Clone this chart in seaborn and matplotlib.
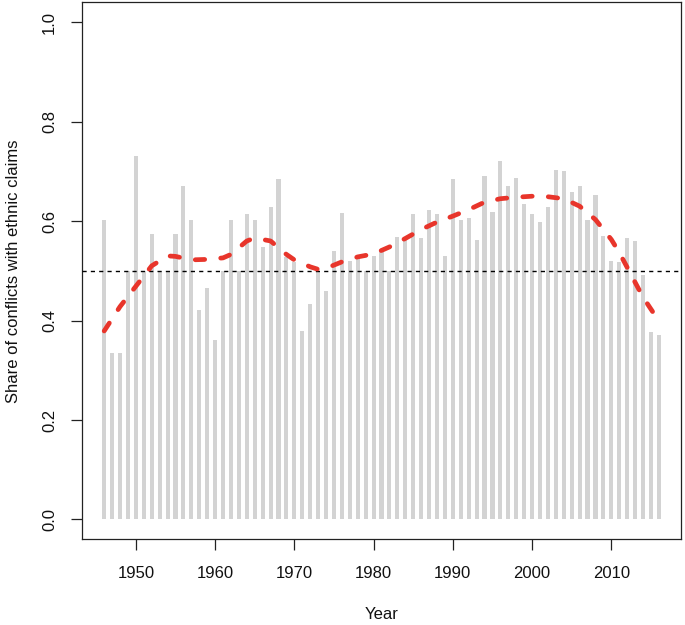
import numpy as np
import pandas as pd
import seaborn as sns
import matplotlib
matplotlib.use("Agg")
import matplotlib.pyplot as plt

# yearly share of conflicts with ethnic claims
years = list(range(1946, 2017))
shares = [
    0.603, 0.335, 0.335, 0.500, 0.730, 0.500, 0.574, 0.500, 0.500, 0.574,  # 1946-1955
    0.670, 0.603, 0.421, 0.466, 0.361, 0.500, 0.603, 0.500, 0.614, 0.603,  # 1956-1965
    0.548, 0.628, 0.685, 0.528, 0.518, 0.379, 0.434, 0.500, 0.459, 0.540,  # 1966-1975
    0.617, 0.519, 0.532, 0.500, 0.530, 0.541, 0.500, 0.568, 0.568, 0.614,  # 1976-1985
    0.565, 0.622, 0.614, 0.530, 0.685, 0.603, 0.607, 0.562, 0.691, 0.619,  # 1986-1995
    0.721, 0.670, 0.687, 0.635, 0.614, 0.598, 0.628, 0.703, 0.700, 0.659,  # 1996-2005
    0.670, 0.603, 0.652, 0.571, 0.520, 0.518, 0.565, 0.559, 0.491, 0.377,  # 2006-2015
    0.371,                                                                  # 2016
]

# smoothed trend (red dashed curve)
trend_years = [1946, 1948, 1950, 1952, 1954, 1955, 1957, 1959, 1961, 1962,
               1964, 1965, 1967, 1969, 1970, 1972, 1973, 1974, 1976, 1978,
               1980, 1982, 1984, 1986, 1988, 1990, 1992, 1994, 1996, 1998,
               2000, 2002, 2004, 2006, 2008, 2010, 2011, 2012, 2013, 2014,
               2016]
trend_vals = [0.379, 0.428, 0.469, 0.510, 0.530, 0.529, 0.522, 0.523, 0.526, 0.533,
              0.560, 0.566, 0.560, 0.533, 0.522, 0.508, 0.503, 0.505, 0.518, 0.528,
              0.534, 0.548, 0.565, 0.583, 0.598, 0.610, 0.623, 0.638, 0.645, 0.648,
              0.650, 0.649, 0.645, 0.630, 0.603, 0.563, 0.537, 0.507, 0.477, 0.447,
              0.399]

x_ticks = [1950, 1960, 1970, 1980, 1990, 2000, 2010]
y_ticks = [0.0, 0.2, 0.4, 0.6, 0.8, 1.0]

df = pd.DataFrame({"year": years, "share": shares})
trend = pd.DataFrame({"year": trend_years, "share": trend_vals})

sns.set_style("white")
plt.rcParams["font.family"] = ["Liberation Sans", "DejaVu Sans"]

fig = plt.figure(figsize=(6.85, 6.25), dpi=100)
ax = fig.add_axes([0.1197, 0.1371, 0.8745, 0.8592])

# grey yearly bars
sns.barplot(data=df, x="year", y="share", native_scale=True, width=0.52,
            color="#D3D3D3", saturation=1, errorbar=None, linewidth=0, ax=ax)

# reference line at one half
ax.axhline(0.5, color="black", lw=1.0, linestyle=(0, (3, 3)), zorder=3)

# smoothed trend
sns.lineplot(data=trend, x="year", y="share", color="#E8352B", lw=3.4,
             linestyle=(0, (2.0, 3.4)), dash_capstyle="round", ax=ax, zorder=4)

ax.set_xlim(1943.2, 2018.8)
ax.set_ylim(-0.04, 1.04)
ax.set_xticks(x_ticks)
ax.set_xticklabels([str(t) for t in x_ticks])
ax.set_yticks(y_ticks)
ax.set_yticklabels([f"{t:.1f}" for t in y_ticks], rotation=90, va="center")

for s in ax.spines.values():
    s.set_visible(True)
    s.set_color("#222222")
    s.set_linewidth(0.9)

ax.tick_params(axis="both", direction="out", length=8, width=0.9,
               color="#222222", labelsize=12, labelcolor="#111111",
               bottom=True, left=True)
ax.tick_params(axis="x", pad=11)
ax.tick_params(axis="y", pad=10)

ax.set_xlabel("Year", fontsize=12, labelpad=19, color="#111111")
ax.set_ylabel("Share of conflicts with ethnic claims", fontsize=12,
              labelpad=15, color="#111111")

fig.savefig("out.png", dpi=100)
